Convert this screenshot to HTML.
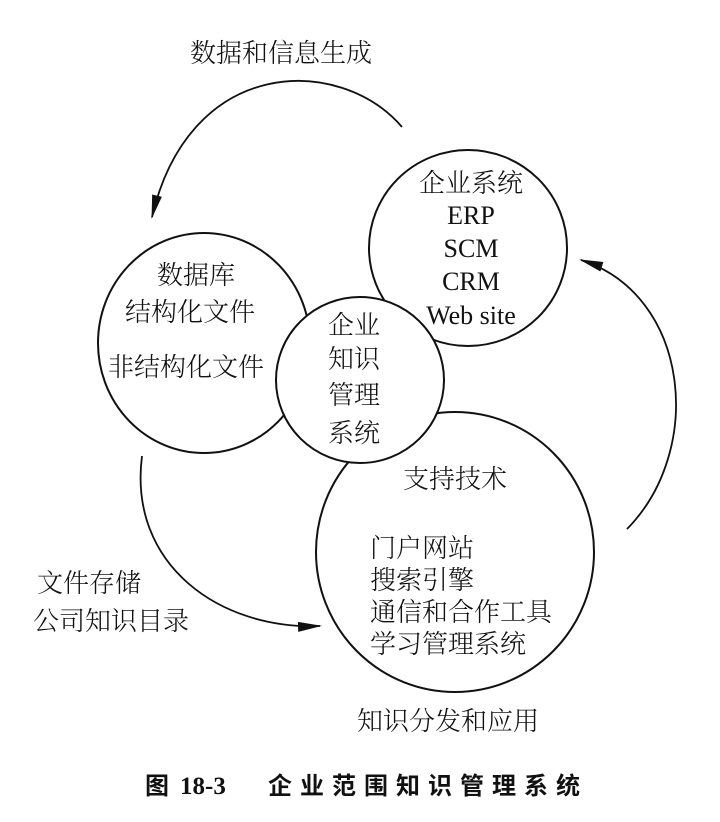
<!DOCTYPE html>
<html><head><meta charset="utf-8"><style>
html,body{margin:0;padding:0;background:#fff;}
svg{display:block;}
text{font-family:"Liberation Serif","Noto Serif CJK SC","Noto Sans CJK SC",serif;font-size:26px;fill:#111;}
.c{font-family:"Liberation Sans","Noto Sans CJK SC",sans-serif;font-weight:300;}
.b{font-family:"Liberation Sans","Noto Sans CJK SC",sans-serif;font-weight:bold;font-size:24px;}
</style></head><body>
<svg width="720" height="822" viewBox="0 0 720 822" xmlns="http://www.w3.org/2000/svg">
<defs><marker id="a" markerWidth="24" markerHeight="10" refX="22" refY="5" orient="auto" markerUnits="userSpaceOnUse"><path d="M0,0 L24,5 L0,10 Z" fill="#111"/></marker></defs>
<g fill="#fff" stroke="#111" stroke-width="2">
<ellipse cx="468" cy="248" rx="99" ry="98"/>
<ellipse cx="204" cy="343" rx="106" ry="110"/>
<ellipse cx="455" cy="552" rx="139" ry="140"/>
<ellipse cx="360" cy="380" rx="84" ry="83"/>
</g>
<g fill="none" stroke="#111" stroke-width="1.8">
<path d="M402,127 C340,55 190,55 152,217" marker-end="url(#a)"/>
<path d="M627,529 C705,450 690,295 581,260" marker-end="url(#a)"/>
<path d="M142,456 C128,565 220,630 320,626" marker-end="url(#a)"/>
</g>
<g class="c">
<text x="190" y="62">数据和信息生成</text>
<text x="471" y="192" text-anchor="middle">企业系统</text>
<text x="196" y="284" text-anchor="middle">数据库</text>
<text x="125" y="321">结构化文件</text>
<text x="108" y="376">非结构化文件</text>
<text x="328" y="334">企业</text>
<text x="328" y="368">知识</text>
<text x="328" y="404">管理</text>
<text x="328" y="442">系统</text>
<text x="403" y="488">支持技术</text>
<text x="370" y="557">门户网站</text>
<text x="370" y="589">搜索引擎</text>
<text x="370" y="621">通信和合作工具</text>
<text x="370" y="653">学习管理系统</text>
<text x="37" y="592">文件存储</text>
<text x="33" y="630">公司知识目录</text>
<text x="357" y="730">知识分发和应用</text>
</g>
<text x="471" y="224" text-anchor="middle">ERP</text>
<text x="471" y="257" text-anchor="middle">SCM</text>
<text x="471" y="290" text-anchor="middle">CRM</text>
<text x="471" y="324" text-anchor="middle">Web site</text>
<text class="b" x="145" y="794">图</text>
<text x="180" y="794" style="font-weight:bold;font-size:25px;">18-3</text>
<text class="b" x="268" y="794" style="letter-spacing:8px;">企业范围知识管理系统</text>
</svg>
</body></html>
